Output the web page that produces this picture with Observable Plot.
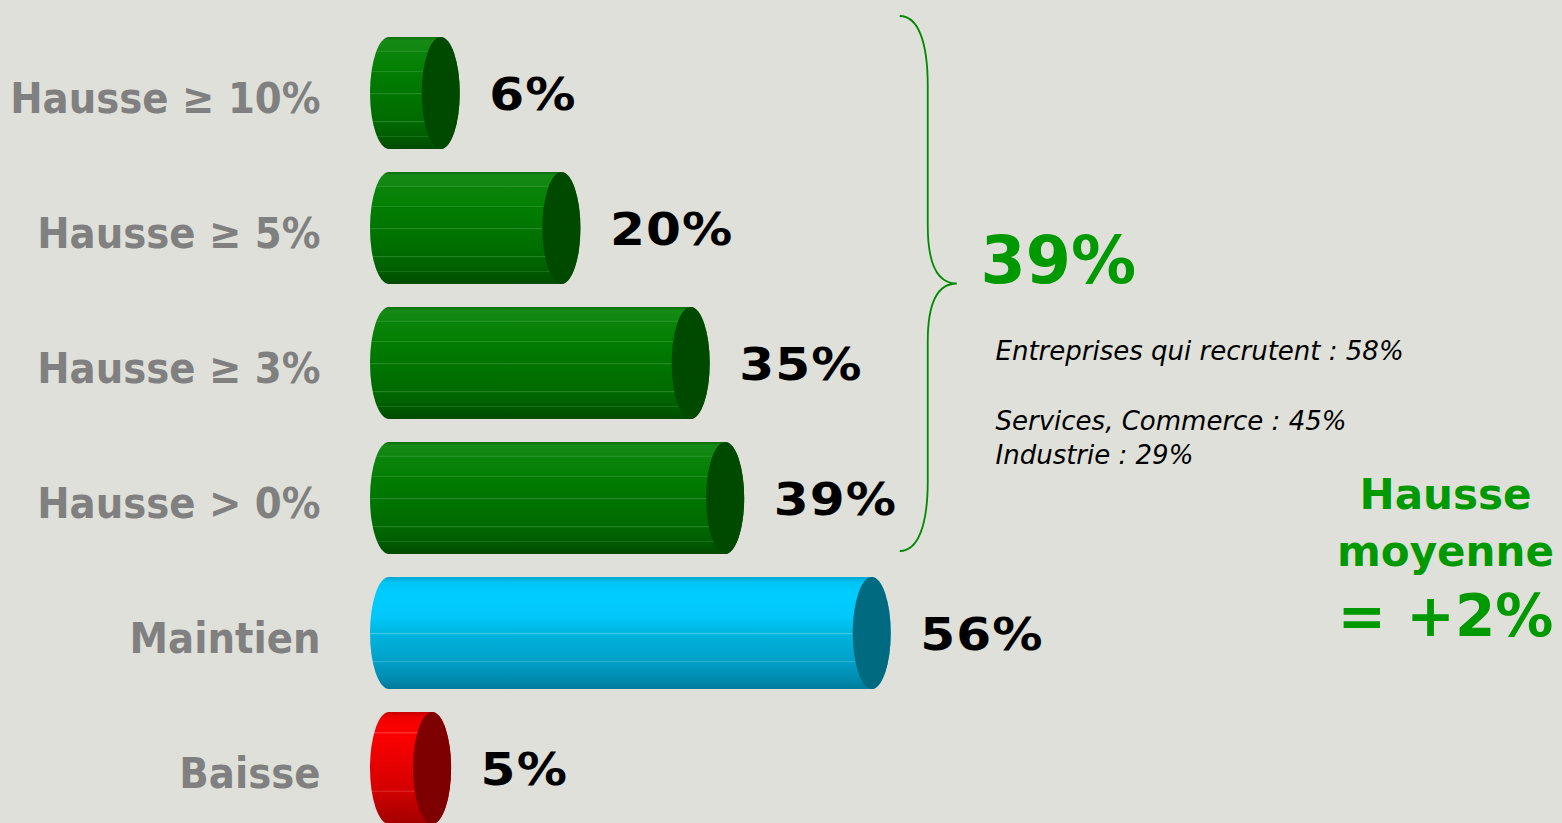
<!DOCTYPE html>
<html>
<head>
<meta charset="utf-8">
<script src="https://cdn.jsdelivr.net/npm/d3@7"></script>
<script src="https://cdn.jsdelivr.net/npm/@observablehq/plot@0.6"></script>
<style>
  html, body { margin: 0; padding: 0; background: #dfe0da; overflow: hidden; }
  #chart svg { display: block; }
  #chart g[font-size="44"] text { letter-spacing: 1px; }
  #chart g[font-size="43"] text { font-stretch: condensed; }
</style>
</head>
<body>
<div id="chart"></div>
<script>
// ---- Data ----
const categories = ["Hausse ≥ 10%", "Hausse ≥ 5%", "Hausse ≥ 3%", "Hausse > 0%", "Maintien", "Baisse"];
const values = [6, 20, 35, 39, 56, 5];
const groups = ["hausse", "hausse", "hausse", "hausse", "maintien", "baisse"];
const valueLabels = values.map(v => v + "%");
const bracketTotal = "39%";
const notes = ["Entreprises qui recrutent : 58%", "", "Services, Commerce : 45%", "Industrie : 29%"];
const averageTitle = ["Hausse", "moyenne"];
const averageValue = "= +2%";

const rows = categories.map((c, i) => ({category: c, value: values[i], group: groups[i], label: valueLabels[i]}));

// ---- Styles ----
const capColors = {hausse: "#004a00", maintien: "#006a80", baisse: "#7f0000"};
const gradientStops = {
  hausse: [[0, "#0b6a0b"], [0.03, "#168a16"], [0.12, "#0f870f"], [0.125, "#3c9f3c"], [0.135, "#0b830b"],
           [0.3, "#038003"], [0.305, "#2f962f"], [0.315, "#027d02"], [0.5, "#007600"], [0.505, "#2a8a2a"], [0.515, "#007500"],
           [0.75, "#006a00"], [0.755, "#2a842a"], [0.765, "#006800"], [0.88, "#005e00"], [0.885, "#237a23"],
           [0.895, "#005b00"], [1, "#004a00"]],
  maintien: [[0, "#00a8d0"], [0.05, "#00c4f4"], [0.15, "#00ccff"], [0.35, "#00c8fa"], [0.5, "#00b6e0"],
             [0.505, "#40cde8"], [0.515, "#00b4dd"], [0.75, "#00a0c8"], [0.755, "#30b0d0"], [0.765, "#009ec6"],
             [0.9, "#008db2"], [1, "#007a9a"]],
  baisse: [[0, "#c80000"], [0.05, "#f00000"], [0.18, "#ff0000"], [0.185, "#ff4a4a"], [0.195, "#fc0000"],
           [0.45, "#e80000"], [0.7, "#d40000"], [0.705, "#e04040"], [0.715, "#d00000"], [1, "#a20000"]]
};
const fontBold = "'DejaVu Sans', Verdana, sans-serif";
const fontLabel = "'DejaVu Sans Condensed', 'DejaVu Sans', sans-serif";
const green = "#009900";

// Brace drawn from the scales
function brace(index, scales) {
  const x = scales.x, y = scales.y;
  const bw = y.bandwidth();
  const top = y(categories[0]) - 21;
  const bottom = y(categories[3]) + bw - 3;
  const mid = (top + bottom) / 2;
  const xl = x(62.5);
  const x0 = xl - 28, xt = xl + 29;
  const d = `M${x0},${top} C${x0 + 18},${top} ${xl},${top + 25} ${xl},${top + 70} L${xl},${mid - 58} ` +
            `C${xl},${mid - 20} ${xl + 10},${mid} ${xt},${mid} C${xl + 10},${mid} ${xl},${mid + 20} ${xl},${mid + 58} ` +
            `L${xl},${bottom - 70} C${xl},${bottom - 25} ${x0 + 18},${bottom} ${x0},${bottom}`;
  const p = document.createElementNS("http://www.w3.org/2000/svg", "path");
  p.setAttribute("d", d);
  p.setAttribute("fill", "none");
  p.setAttribute("stroke", "#008a00");
  p.setAttribute("stroke-width", "1.8");
  return p;
}

const groupMarks = [];
for (const g of ["hausse", "maintien", "baisse"]) {
  const sub = rows.filter(r => r.group === g);
  groupMarks.push(Plot.barX(sub, {x1: 0, x2: "value", y: "category", fill: `url(#body-${g})`,
    insetLeft: -19, insetRight: -19, rx: 19, ry: 56}));
  groupMarks.push(Plot.barX(sub, {x1: "value", x2: "value", y: "category", fill: capColors[g],
    insetLeft: -19, insetRight: -19, rx: 19, ry: 56}));
}

const chart = Plot.plot({
  width: 1562,
  height: 823,
  margin: 0,
  style: {background: "transparent"},
  x: {domain: [0, 100], range: [389, 1251], axis: null},
  y: {domain: categories, range: [24.5, 835.7], paddingInner: 0.17, paddingOuter: 0.085, axis: null},
  marks: [
    ...groupMarks,
    Plot.text(rows, {y: "category", text: "category", frameAnchor: "left", dx: 320, dy: 6, textAnchor: "end",
      fontSize: 43, fontWeight: "bold", fontFamily: fontLabel, fill: "#808080"}),
    Plot.text(rows, {x: "value", y: "category", text: "label", dx: 48, dy: 2, textAnchor: "start",
      fontSize: 44, fontWeight: "bold", fontFamily: fontBold, fill: "#000"}),
    brace,
    Plot.text([bracketTotal], {frameAnchor: "top-left", dx: 980, dy: 236, lineAnchor: "top", textAnchor: "start",
      fontSize: 65, fontWeight: "bold", fontFamily: fontBold, fill: green}),
    Plot.text([notes.join("\n")], {frameAnchor: "top-left", dx: 995, dy: 335, lineAnchor: "top", textAnchor: "start",
      fontSize: 26, fontStyle: "italic", fontFamily: fontBold, lineHeight: 1.335, fill: "#000"}),
    Plot.text([averageTitle.join("\n")], {frameAnchor: "top-left", dx: 1445, dy: 468, lineAnchor: "top", textAnchor: "middle",
      fontSize: 42, fontWeight: "bold", fontFamily: fontBold, lineHeight: 1.36, fill: green}),
    Plot.text([averageValue], {frameAnchor: "top-left", dx: 1445, dy: 594, lineAnchor: "top", textAnchor: "middle",
      fontSize: 58, fontWeight: "bold", fontFamily: fontBold, fill: green})
  ]
});

// gradients
const svg = d3.select(chart.tagName === "svg" ? chart : chart.querySelector("svg"));
const defs = svg.insert("defs", ":first-child");
for (const [g, stops] of Object.entries(gradientStops)) {
  const lg = defs.append("linearGradient").attr("id", `body-${g}`)
    .attr("x1", 0).attr("y1", 0).attr("x2", 0).attr("y2", 1);
  for (const [o, c] of stops) lg.append("stop").attr("offset", o).attr("stop-color", c);
}
// widen value labels horizontally (Verdana-like proportions)
svg.selectAll('g[font-size="44"] text').each(function () {
  const t = this.getAttribute("transform") || "";
  this.setAttribute("transform", t + " scale(1.14,1)");
});

document.getElementById("chart").appendChild(chart);
</script>
</body>
</html>
